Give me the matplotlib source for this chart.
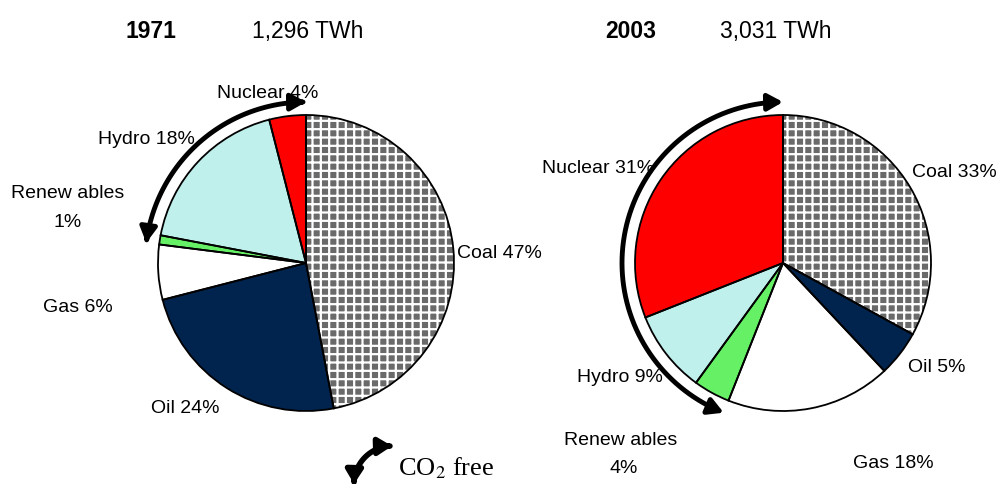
import numpy as np
import matplotlib
matplotlib.use("Agg")
import matplotlib.pyplot as plt
from matplotlib.patches import FancyArrowPatch
from matplotlib.path import Path

# shares of electricity generation (%), clockwise from the top
sources = ["Coal", "Oil", "Gas", "Renew ables", "Hydro", "Nuclear"]
share_1971 = [47, 24, 6, 1, 18, 4]
share_2003 = [33, 5, 18, 4, 9, 31]
years = ["1971", "2003"]
totals = ["1,296 TWh", "3,031 TWh"]
co2_free = ["Renew ables", "Hydro", "Nuclear"]

colors = ["#6a6a6a", "#00244d", "#ffffff", "#66f066", "#bff0ec", "#ff0000"]

plt.rcParams["font.family"] = ["Liberation Sans", "DejaVu Sans"]
plt.rcParams["mathtext.fontset"] = "stix"
plt.rcParams["hatch.linewidth"] = 1.6

W, H = 998, 484
fig = plt.figure(figsize=(W / 100, H / 100), dpi=100)
ax = fig.add_axes([0, 0, 1, 1])


def py(y):
    # pixel row (from top) -> data y
    return H - y


def draw_pie(values, cx, cy, r):
    wedges, _ = ax.pie(values, colors=colors, startangle=90, counterclock=False,
                       center=(cx, py(cy)), radius=r,
                       wedgeprops=dict(linewidth=0, edgecolor="white"))
    wedges[0].set_hatch("++")
    wedges[0].set_edgecolor("white")
    ax.pie(values, colors=["none"] * len(values), startangle=90, counterclock=False,
           center=(cx, py(cy)), radius=r,
           wedgeprops=dict(linewidth=1.3, edgecolor="black", fill=False))
    # arrow spanning the CO2 free share
    start = sum(v for s, v in zip(sources, values) if s not in co2_free)
    theta = np.radians(np.linspace(90 - 3.6 * start, 90 - 360, 80))
    ra = r + 13
    verts = np.column_stack([cx + ra * np.cos(theta), py(cy) + ra * np.sin(theta)])
    ax.add_patch(FancyArrowPatch(path=Path(verts),
                                 arrowstyle="<|-|>,head_length=9,head_width=5",
                                 lw=3.5, color="black"))


draw_pie(share_1971, 306, 263, 148)
draw_pie(share_2003, 783, 263, 148)

# titles
tfs = 16.5
ax.text(126, py(38), years[0], fontsize=tfs, fontweight="bold", va="baseline")
ax.text(252, py(38), totals[0], fontsize=tfs, va="baseline")
ax.text(605, py(38), years[1], fontsize=tfs, fontweight="bold", va="baseline")
ax.text(720, py(38), totals[1], fontsize=tfs, va="baseline")

fs = 14
# 1971 labels
ax.text(457, py(258), f"Coal {share_1971[0]}%", fontsize=fs, va="baseline")
ax.text(151, py(413), f"Oil {share_1971[1]}%", fontsize=fs, va="baseline")
ax.text(43, py(312), f"Gas {share_1971[2]}%", fontsize=fs, va="baseline")
ax.text(68, py(198), "Renew ables", fontsize=fs, ha="center", va="baseline")
ax.text(68, py(227), f"{share_1971[3]}%", fontsize=fs, ha="center", va="baseline")
ax.text(195, py(144), f"Hydro {share_1971[4]}%", fontsize=fs, ha="right", va="baseline")
ax.text(217, py(98), f"Nuclear {share_1971[5]}%", fontsize=fs, va="baseline")

# 2003 labels
ax.text(912, py(177), f"Coal {share_2003[0]}%", fontsize=fs, va="baseline")
ax.text(908, py(372), f"Oil {share_2003[1]}%", fontsize=fs, va="baseline")
ax.text(853, py(468), f"Gas {share_2003[2]}%", fontsize=fs, va="baseline")
ax.text(621, py(445), "Renew ables", fontsize=fs, ha="center", va="baseline")
ax.text(624, py(473), f"{share_2003[3]}%", fontsize=fs, ha="center", va="baseline")
ax.text(577, py(382), f"Hydro {share_2003[4]}%", fontsize=fs, va="baseline")
ax.text(542, py(173), f"Nuclear {share_2003[5]}%", fontsize=fs, va="baseline")

# legend: small curved arrow + "CO2 free"
t = np.radians(np.linspace(180, 90, 30))
leg = np.column_stack([392 + 38 * np.cos(t), py(484) + 38 * np.sin(t)])
ax.add_patch(FancyArrowPatch(path=Path(leg),
                             arrowstyle="<|-|>,head_length=8,head_width=5",
                             lw=4, color="black"))
ax.text(398, py(475), r"CO$_2$ free", fontsize=19, family="Liberation Serif",
        va="baseline")

ax.set_xlim(0, W)
ax.set_ylim(0, H)
ax.set_aspect("auto")
ax.axis("off")

fig.savefig("out.png", dpi=100)
